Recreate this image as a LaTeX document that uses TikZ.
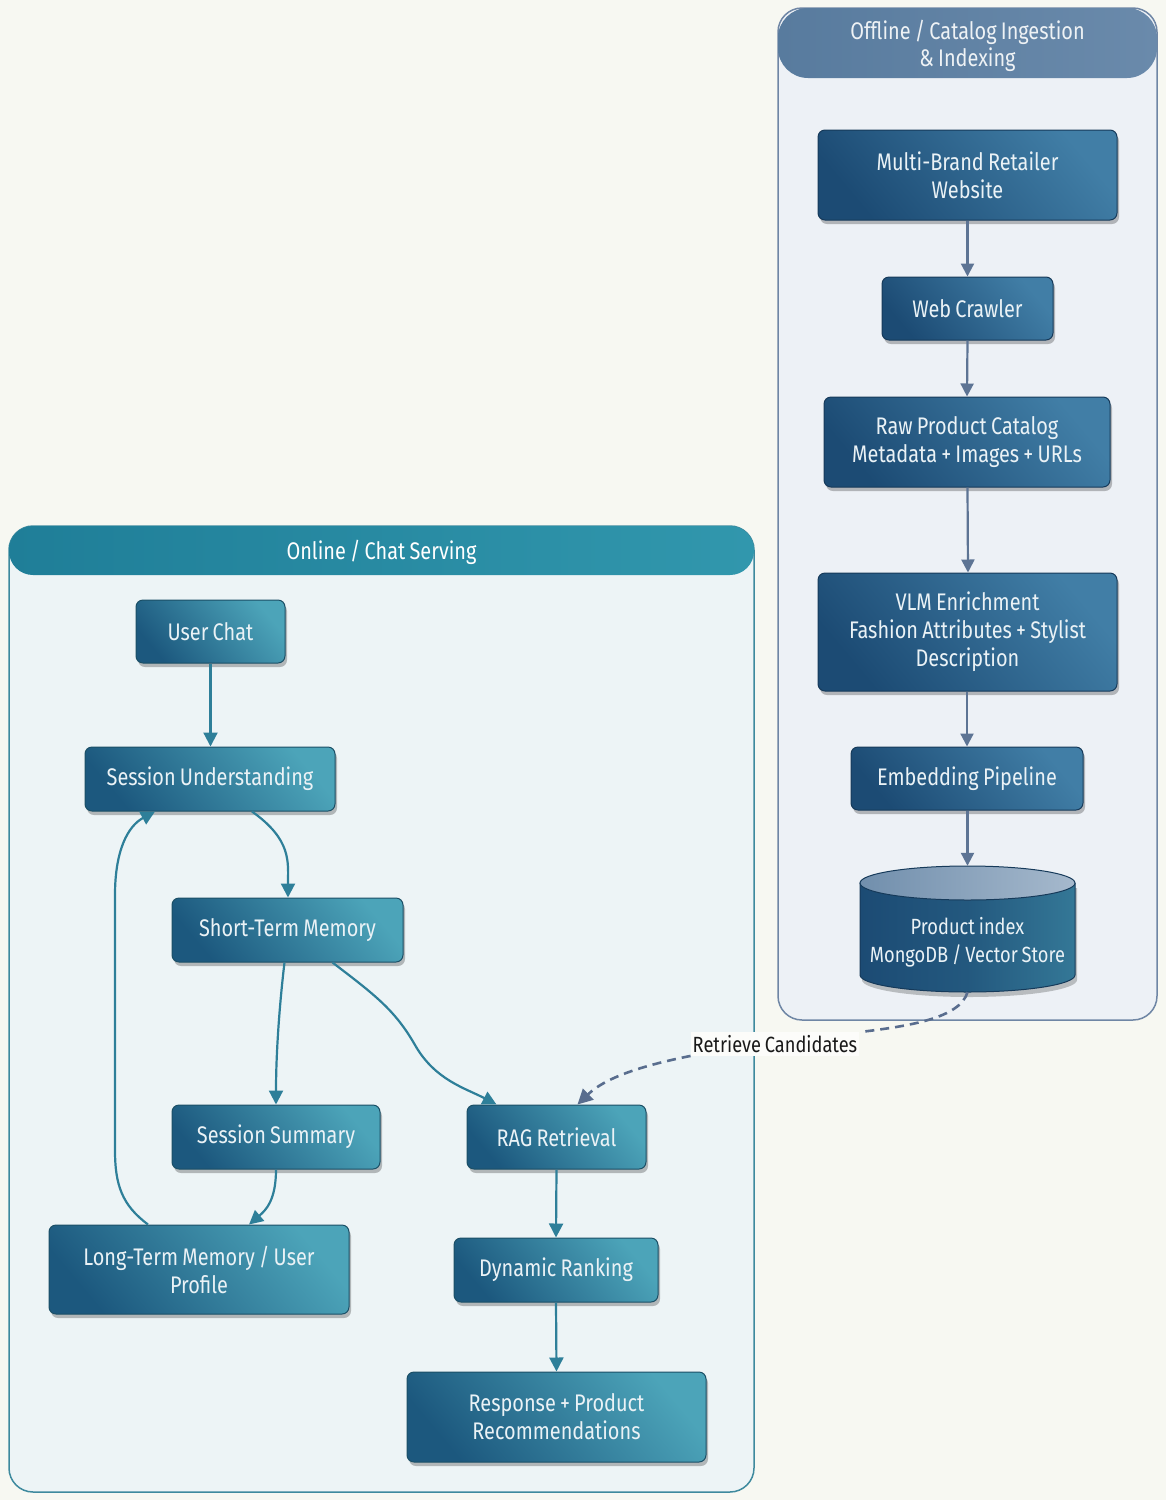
\documentclass[tikz,border=0pt]{standalone}
\usepackage{fontspec}
\setmainfont{Fira Sans}[FakeStretch=0.83, WordSpace=0.8]
\usetikzlibrary{shadows,arrows.meta}
\definecolor{bgc}{HTML}{F7F8F2}
\definecolor{onpanel}{HTML}{EDF4F6}
\definecolor{onborder}{HTML}{3E8A9E}
\definecolor{offpanel}{HTML}{EDF1F6}
\definecolor{offborder}{HTML}{6F86A5}
\definecolor{onheadL}{HTML}{1F7E98}
\definecolor{onheadR}{HTML}{3197AD}
\definecolor{offheadL}{HTML}{587B9E}
\definecolor{offheadR}{HTML}{6A8AAB}
\definecolor{ondark}{HTML}{1C587E}
\definecolor{onlight}{HTML}{4CA4B9}
\definecolor{ondraw}{HTML}{1B4F66}
\definecolor{offdark}{HTML}{1C4B74}
\definecolor{offlight}{HTML}{417EA6}
\definecolor{offdraw}{HTML}{163A5A}
\definecolor{onarrow}{HTML}{2E7F99}
\definecolor{offarrow}{HTML}{5D7494}
\definecolor{dasharrow}{HTML}{596D8E}
\definecolor{boxtext}{HTML}{EAF2F6}
\tikzset{
  txt/.style={font=\fontsize{24}{28}\selectfont, text=boxtext, align=center, inner sep=0pt},
  boxshadow/.style={drop shadow={shadow xshift=2pt, shadow yshift=-4pt, opacity=0.25, fill=black}},
  onbox/.style={txt, rectangle, rounded corners=7pt, draw=ondraw, line width=1pt,
    shading=axis, bottom color=ondark, top color=onlight, shading angle=-50, boxshadow},
  offbox/.style={txt, rectangle, rounded corners=7pt, draw=offdraw, line width=1pt,
    shading=axis, bottom color=offdark, top color=offlight, shading angle=-50, boxshadow},
  onarr/.style={draw=onarrow, line width=2.2pt, -{Triangle[length=14pt,width=14pt]}},
  offarr/.style={draw=offarrow, line width=2.2pt, -{Triangle[length=13pt,width=13pt]}},
  dasharr/.style={draw=dasharrow, line width=2.6pt, dash pattern=on 9pt off 6pt,
    -{Triangle[length=15pt,width=15pt]}},
  headtxt/.style={font=\fontsize{24}{27}\selectfont, align=center, inner sep=0pt},
}
\begin{document}
\begin{tikzpicture}[x=1pt,y=-1pt]
\fill[bgc] (0,0) rectangle (1166,1500);
\useasboundingbox (0,0) rectangle (1166,1500);

% ---------- panels ----------
\draw[fill=onpanel, draw=onborder, line width=1.5pt, rounded corners=24pt] (9,526) rectangle (754,1492);
\shade[left color=onheadL, right color=onheadR, rounded corners=24pt] (9,526) rectangle (754,575);
\node[headtxt, text=white] (onhead) at (381.5,552) {Online / Chat Serving};

\draw[fill=offpanel, draw=offborder, line width=1.5pt, rounded corners=24pt] (778,8) rectangle (1157,1020);
\shade[left color=offheadL, right color=offheadR, rounded corners=30pt] (778,8) rectangle (1157,78);
\node[headtxt, text=white!90!offheadL] (offhead) at (967.5,46) {Offline / Catalog Ingestion\\ \& Indexing};

% ---------- offline nodes ----------
\node[offbox, minimum width=299pt, minimum height=90pt] (mbr) at (967.5,175) {Multi-Brand Retailer\\Website};
\node[offbox, minimum width=171pt, minimum height=63pt] (wc) at (967.5,308.5) {Web Crawler};
\node[offbox, minimum width=286pt, minimum height=90pt] (raw) at (967,442) {Raw Product Catalog\\Metadata + Images + URLs};
\node[offbox, minimum width=299pt, minimum height=118pt] (vlm) at (967.5,632) {VLM Enrichment\\Fashion Attributes + Stylist\\Description};
\node[offbox, minimum width=232pt, minimum height=63pt] (emb) at (967,778.5) {Embedding Pipeline};

% cylinder
\fill[black, opacity=0.22] (862,888) -- (862,980) arc[start angle=180, end angle=0, x radius=107.5, y radius=17] -- (1077,888) -- cycle;
\shade[left color=offdark, right color=offdark!50!onlight, middle color=offdark!85!onlight]
  (860,883) -- (860,975) arc[start angle=180, end angle=0, x radius=107.5, y radius=17] -- (1075,883) -- cycle;
\draw[offdraw, line width=1pt]
  (860,883) -- (860,975) arc[start angle=180, end angle=0, x radius=107.5, y radius=17] -- (1075,883);
\shade[left color=offheadL!85!white, right color=offheadR!60!white]
  (967.5,883) ellipse [x radius=107.5, y radius=17];
\draw[offdraw, line width=1pt] (967.5,883) ellipse [x radius=107.5, y radius=17];
\node[txt, minimum width=215pt, minimum height=126pt] (pidx) at (967.5,929) {};
\node[txt, font=\fontsize{22}{28}\selectfont] (pidxt) at (967.5,942) {Product index\\MongoDB / Vector Store};

% ---------- online nodes ----------
\node[onbox, minimum width=149pt, minimum height=63pt] (uc) at (210.5,631.5) {User Chat};
\node[onbox, minimum width=250pt, minimum height=64pt] (su) at (210,779) {Session Understanding};
\node[onbox, minimum width=231pt, minimum height=64pt] (stm) at (287.5,930) {Short-Term Memory};
\node[onbox, minimum width=208pt, minimum height=64pt] (ss) at (276,1137) {Session Summary};
\node[onbox, minimum width=300pt, minimum height=89pt] (ltm) at (199,1269.5) {Long-Term Memory / User\\Profile};
\node[onbox, minimum width=179pt, minimum height=64pt] (rag) at (556.5,1137) {RAG Retrieval};
\node[onbox, minimum width=204pt, minimum height=64pt] (dr) at (556,1270) {Dynamic Ranking};
\node[onbox, minimum width=299pt, minimum height=90pt] (resp) at (556.5,1417) {Response + Product\\Recommendations};

% ---------- offline arrows ----------
\draw[offarr] (mbr.south) -- (wc.north);
\draw[offarr] (wc.south) -- (raw.north);
\draw[offarr] ([xshift=0.5pt]raw.south) -- ([xshift=0.5pt]vlm.north);
\draw[offarr] ([xshift=-0.5pt]vlm.south) -- (emb.north);
\draw[offarr] ([xshift=0.5pt]emb.south) -- (pidx.north);

% ---------- online arrows ----------
\draw[onarr] (uc.south) -- ([xshift=0.5pt]su.north);
\draw[onarr] ([xshift=42pt]su.south) .. controls (292,840) and (288,862) .. ([xshift=0.5pt]stm.north);
\draw[onarr] ([xshift=-3pt]stm.south) .. controls (280,1000) and (276,1050) .. (ss.north);
\draw[onarr] ([xshift=45pt]stm.south) .. controls (375,995) and (395,1010) .. (415,1045)
  .. controls (435,1080) and (465,1088) .. ([xshift=-60pt]rag.north);
\draw[onarr] (ss.south) .. controls (276,1200) and (266,1210) .. ([xshift=50pt]ltm.north);
\draw[onarr] ([xshift=-51pt]ltm.north) .. controls (122,1205) and (115,1185) .. (115,1150)
  -- (115,895) .. controls (115,850) and (128,826) .. ([xshift=-55pt]su.south);
\draw[onarr] (rag.south) -- (dr.north);
\draw[onarr] (dr.south) -- (resp.north);

% ---------- dashed connector ----------
\node[font=\fontsize{22}{24}\selectfont, text=black!90, fill=white!60!bgc, inner xsep=2pt, inner ysep=3pt] (lbl) at (775,1044) {Retrieve Candidates};
\draw[dasharr] (pidx.south) .. controls (960,1018) and (910,1026) .. (lbl.north east)
  (lbl.south west) .. controls (640,1066) and (605,1078) .. ([xshift=21pt]rag.north);
\end{tikzpicture}
\end{document}
